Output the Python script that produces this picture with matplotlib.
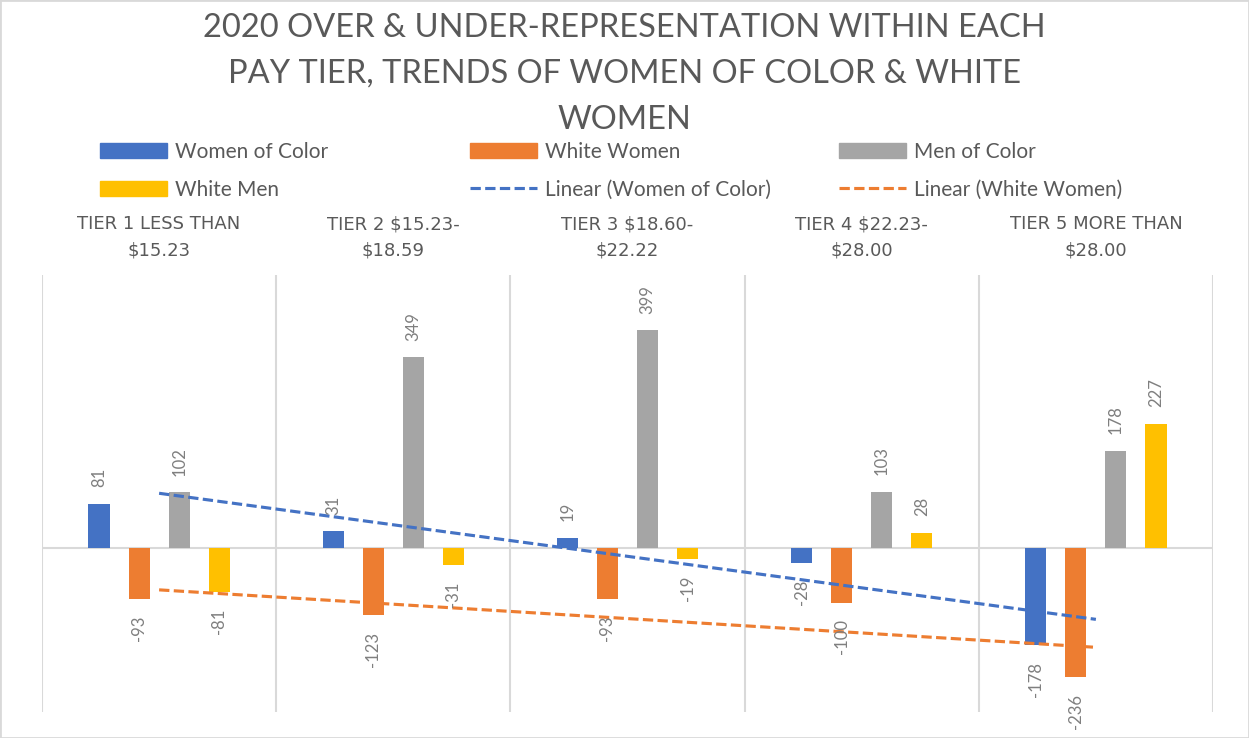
import numpy as np
import matplotlib.pyplot as plt
from matplotlib.patches import Patch, Rectangle
from matplotlib.lines import Line2D

plt.rcParams['font.family'] = ['Lato', 'DejaVu Sans']

tiers = ['TIER 1 LESS THAN\n$15.23', 'TIER 2 $15.23-\n$18.59', 'TIER 3 $18.60-\n$22.22',
         'TIER 4 $22.23-\n$28.00', 'TIER 5 MORE THAN\n$28.00']
women_of_color = [81, 31, 19, -28, -178]
white_women = [-93, -123, -93, -100, -236]
men_of_color = [102, 349, 399, 103, 178]
white_men = [-81, -31, -19, 28, 227]

series = [('Women of Color', women_of_color, '#4472C4'),
          ('White Women', white_women, '#ED7D31'),
          ('Men of Color', men_of_color, '#A5A5A5'),
          ('White Men', white_men, '#FFC000')]

label_color = '#7F7F7F'
text_color = '#595959'
grid_color = '#D9D9D9'

fig = plt.figure(figsize=(12.49, 7.38), dpi=100)
ax = fig.add_axes([42/1249, 1 - 712/738, (1213 - 42)/1249, (712 - 275)/738])

x = np.arange(1, len(tiers) + 1)
width = 0.09
step = 0.171
for i, (name, vals, col) in enumerate(series):
    pos = x + (i - 1.5) * step
    ax.bar(pos, vals, width, color=col, zorder=2)
    for px, v in zip(pos, vals):
        ax.annotate(str(v), (px, v), xytext=(0, 12 if v >= 0 else -12),
                    textcoords='offset points', rotation=90, ha='center',
                    va='bottom' if v >= 0 else 'top', fontsize=12,
                    color=label_color, zorder=5)

# linear trendlines like Excel
dash = (0, (3.3, 1.4))
for vals, col in [(women_of_color, '#4472C4'), (white_women, '#ED7D31')]:
    k, b = np.polyfit(x, vals, 1)
    ax.plot(x[[0, -1]], k * x[[0, -1]] + b, color=col, lw=2.25, ls=dash, zorder=4)

ax.axhline(0, color=grid_color, lw=1.5, zorder=1)
ax.set_xlim(0.5, 5.5)
ax.set_ylim(-300, 500)
ax.set_yticks([])
ax.set_xticks(x)
ax.set_xticklabels(tiers, fontsize=13, color=text_color, family='DejaVu Sans',
                   linespacing=1.6)
ax.xaxis.set_ticks_position('top')
ax.tick_params(axis='x', which='major', length=0, pad=11)
ax.set_xticks(np.arange(0.5, 6, 1), minor=True)
ax.tick_params(axis='x', which='minor', length=0)
ax.grid(True, which='minor', axis='x', color=grid_color, lw=1.5, zorder=0)
for s in ax.spines.values():
    s.set_visible(False)

fig.text(0.5, 1 - 74/738,
         '2020 OVER & UNDER-REPRESENTATION WITHIN EACH\nPAY TIER, TRENDS OF WOMEN OF COLOR & WHITE\nWOMEN',
         ha='center', va='center', fontsize=23.5, color=text_color, linespacing=1.65)

# legend in three columns
cols = [
    [(Patch(color='#4472C4'), 'Women of Color'), (Patch(color='#FFC000'), 'White Men')],
    [(Patch(color='#ED7D31'), 'White Women'),
     (Line2D([], [], color='#4472C4', lw=2.25, ls=dash), 'Linear (Women of Color)')],
    [(Patch(color='#A5A5A5'), 'Men of Color'),
     (Line2D([], [], color='#ED7D31', lw=2.25, ls=dash), 'Linear (White Women)')],
]
for xs, items in zip([100, 470, 839], cols):
    fig.legend([h for h, _ in items], [l for _, l in items], loc='upper left',
               bbox_to_anchor=(xs/1249, 1 - 142/738), frameon=False, fontsize=15,
               labelcolor=text_color, handlelength=3.2, handleheight=0.7,
               handletextpad=0.42, labelspacing=0.85, borderpad=0, borderaxespad=0)

fig.add_artist(Rectangle((0, 0), 1, 1, transform=fig.transFigure, fill=False,
                         ec=grid_color, lw=2))

fig.savefig('out.png', dpi=100)
